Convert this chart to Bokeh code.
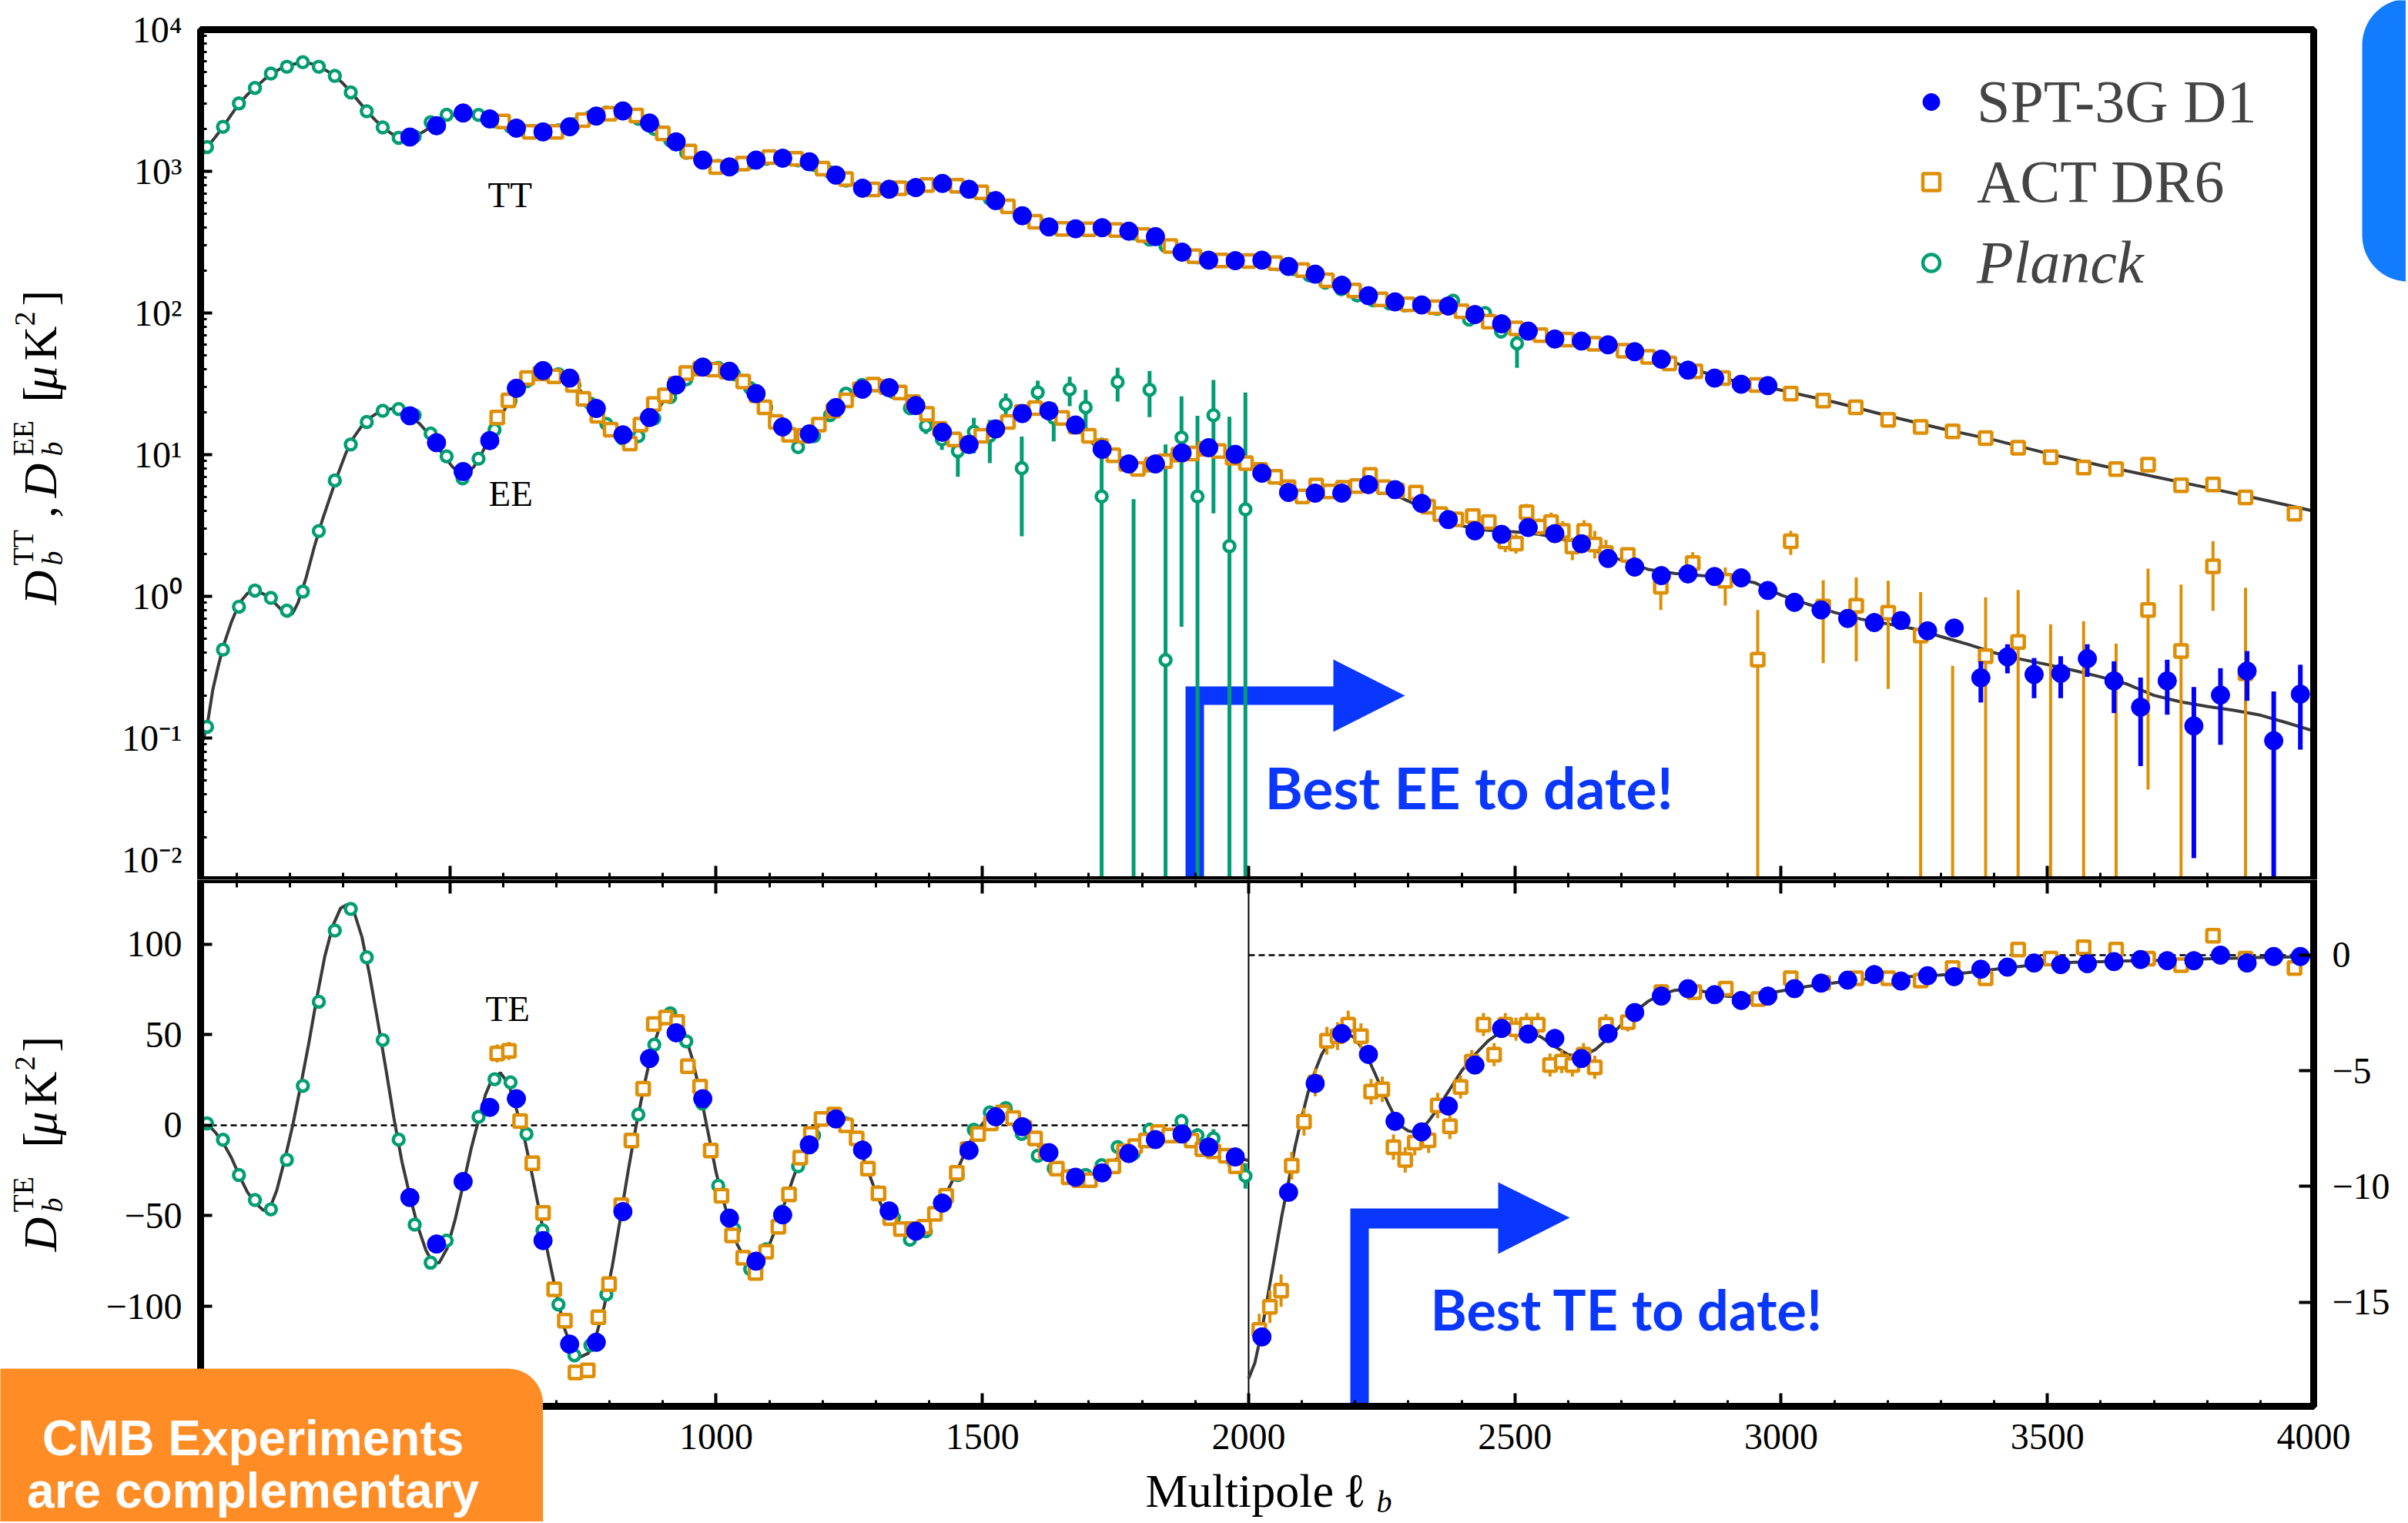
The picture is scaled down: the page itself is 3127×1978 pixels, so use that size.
import math
from bokeh.plotting import figure
from bokeh.models import Range1d, LinearAxis, FixedTicker, Label, Legend, LegendItem
from bokeh.layouts import column
from bokeh.embed import file_html
from bokeh.resources import INLINE

# ----------------------------------------------------------------- data
PLANCK_ELL = [44, 74, 104, 134, 164, 194, 224, 254, 284, 314, 344, 374, 404, 434, 464, 494, 524, 554,
              584, 614, 644, 674, 704, 734, 764, 794, 824, 854, 884, 914, 944, 974, 1004, 1034, 1064,
              1094, 1124, 1154, 1184, 1214, 1244, 1274, 1304, 1334, 1364, 1394, 1424, 1454, 1484, 1514,
              1544, 1574, 1604, 1634, 1664, 1694, 1724, 1754, 1784, 1814, 1844, 1874, 1904, 1934, 1964,
              1994, 2024, 2054, 2084, 2114, 2144, 2174, 2204, 2234, 2264, 2294, 2324, 2354, 2384, 2414,
              2444, 2474, 2504]
PLANCK_TT = [1484, 2061, 3014, 3875, 4898, 5475, 5888, 5475, 4713, 3606,
             2652, 2039, 1726, 1760, 2218, 2506, 2580, 2500, 2250, 2060,
             1900, 1880, 1950, 2150, 2420, 2600, 2600, 2350, 1990, 1650,
             1350, 1170, 1090, 1080, 1150, 1225, 1232, 1195, 1110, 985,
             860, 775, 748, 748, 765, 795, 808, 780, 720, 640,
             560, 490, 437, 404, 391, 390, 394, 384, 364, 330,
             296, 266, 247, 237, 234, 235, 232, 221, 204, 184,
             164, 147, 133, 123, 117, 113, 112, 107, 122, 90,
             100, 74, 61]
PLANCK_TT_ERR = [(2384, 112, 133), (2414, 82, 98), (2444, 91, 110), (2474, 66, 83), (2504, 41, 80)]
PLANCK_EE = [0.12, 0.42, 0.845, 1.10, 0.975, 0.794, 1.08, 2.89, 6.58, 11.8,
             17.0, 20.4, 21.0, 19.0, 14.1, 9.73, 6.8, 9.36, 15.0, 24.0,
             33.0, 38.5, 37.0, 31.0, 23.0, 16.5, 13.0, 13.5, 18.0, 25.5,
             34.0, 40.0, 41.0, 37.0, 29.5, 21.5, 15.5, 11.3, 13.5, 19.0,
             27.0, 31.0, 31.0, 27.5, 21.3, 16.0, 12.8, 10.6, 14.5, 13.6,
             22.7, 8.03, 27.5, 18.2, 28.9, 21.6, 5.07, 32.6, 1e-4, 28.7,
             0.355, 13.2, 5.07, 19.0, 2.26, 4.11]
PLANCK_EE_ERR = [(1364, 19.0, 24.0), (1394, 14.0, 18.5), (1424, 10.8, 14.8), (1454, 6.98, 14.5),
                 (1484, 10.2, 18.2), (1514, 8.72, 17.6), (1544, 17.0, 27.0), (1574, 2.65, 13.4),
                 (1604, 20.6, 33.3), (1634, 12.4, 23.4), (1664, 22.0, 35.5), (1694, 13.2, 28.7),
                 (1724, 1e-4, 13.2), (1754, 23.7, 41.1), (1784, 1e-4, 4.85), (1814, 18.4, 39.0),
                 (1844, 1e-4, 11.8), (1874, 0.61, 25.8), (1904, 1e-4, 18.8), (1934, 3.85, 33.7),
                 (1964, 1e-4, 18.5), (1994, 1e-4, 27.5)]
PLANCK_TE = [1.1, -8.0, -27.5, -41.3, -46.5, -19.1, 21.8, 68.3, 107.6, 119.5,
             92.8, 47.1, -7.9, -54.9, -75.9, -63.7, -30.0, 4.7, 25.4, 23.7,
             -4.8, -58.0, -99.0, -127.1, -121.6, -93.5, -45.0, 5.9, 44.5, 61.9,
             46.4, 12.0, -33.4, -57.3, -79.4, -68.5, -47.7, -22.7, -5.6, 4.0,
             1.1, -13.0, -37.0, -51.0, -63.2, -58.5, -44.2, -27.5, -2.5, 7.1,
             9.5, -4.8, -16.8, -23.9, -28.0, -27.5, -22.0, -12.0, -15.6, -2.5,
             -6.0, 2.3, -5.6, -7.2, -17.9, -28.0]
PLANCK_TE_ERR = [0, 0, 0, 0, 0, 0, 0, 0, 0, 0,
                 0, 0, 0, 0, 0, 0, 0, 0, 0, 0,
                 0, 0, 0, 0, 0, 0, 0, 0, 0, 0,
                 0, 0, 0, 0, 0, 0, 0, 0, 0, 0,
                 2, 2, 2, 2, 2, 2, 2, 2, 2, 2,
                 3, 3, 3, 3, 3, 3, 3, 3, 4, 4,
                 4, 4, 4, 5, 5, 7]

SPT_ELL = [425, 475, 525, 575, 625, 675, 725, 775, 825, 875, 925, 975, 1025, 1075, 1125, 1175,
           1225, 1275, 1325, 1375, 1425, 1475, 1525, 1575, 1625, 1675, 1725, 1775, 1825, 1875,
           1925, 1975, 2025, 2075, 2125, 2175, 2225, 2275, 2325, 2375, 2425, 2475, 2525, 2575,
           2625, 2675, 2725, 2775, 2825, 2875, 2925, 2975, 3025, 3075, 3125, 3175, 3225, 3275,
           3325, 3375, 3425, 3475, 3525, 3575, 3625, 3675, 3725, 3775, 3825, 3875, 3925, 3975]
SPT_TT = [1745, 2098, 2579, 2344, 2017, 1897, 2063, 2453, 2667, 2193,
          1614, 1200, 1074, 1200, 1238, 1168, 940, 760, 747, 768,
          821, 747, 621, 486, 405, 393, 400, 378, 346, 269,
          236, 234, 236, 213, 188, 157, 132.5, 119.8, 113.9, 112,
          97.4, 83.8, 74.5, 65.5, 63.4, 59.6, 53.3, 47.2, 39.5, 34.7,
          31.4, 30.7]
SPT_EE = [18.8, 12.15, 7.6, 12.57, 29.4, 39.2, 34.7, 21.2, 13.8, 18.3,
          31.0, 41.5, 38.8, 27.0, 15.7, 14.0, 21.5, 29.0, 29.7, 22.2,
          14.4, 11.8, 15.2, 19.5, 20.4, 16.2, 10.9, 8.6, 8.6, 10.3,
          11.2, 10.05, 7.4, 5.41, 5.35, 5.35, 6.15, 5.66, 4.53, 3.48,
          2.90, 2.74, 3.06, 2.77, 2.35, 1.85, 1.61, 1.40, 1.44, 1.38,
          1.35, 1.10, 0.907, 0.802, 0.698, 0.653, 0.675, 0.571, 0.597, 0.266,
          0.374, 0.281, 0.286, 0.363, 0.253, 0.165, 0.253, 0.1217, 0.201, 0.297,
          0.0957, 0.204]
SPT_EE_ERR = [(3375, 0.178, 0.348), (3425, 0.286, 0.459), (3475, 0.191, 0.367), (3525, 0.191, 0.378),
              (3575, 0.270, 0.459), (3625, 0.150, 0.348), (3675, 0.0634, 0.267), (3725, 0.146, 0.357),
              (3775, 0.0142, 0.229), (3825, 0.0895, 0.311), (3875, 0.183, 0.411), (3925, 0.001, 0.213),
              (3975, 0.0828, 0.329)]
SPT_TE_LEFT = [-39.9, -65.6, -31.1, 9.9, 14.7, -63.7, -120.9, -119.9, -47.7, 36.9,
               51.1, 14.7, -51.3, -75.1, -49.5, -10.8, 3.5, -13.7, -47.3, -58.5,
               -43.0, -13.9, 4.7, -0.8, -15.1, -28.7, -26.3, -15.6, -7.9, -4.8,
               -12.0, -17.5]
SPT_TE_RIGHT = [-16.5, -10.25, -5.55, -3.39, -4.29, -7.18, -7.64, -6.52, -4.75, -3.17,
                -3.41, -3.6, -4.47, -3.39, -2.48, -1.77, -1.45, -1.71, -1.96, -1.77,
                -1.45, -1.21, -1.08, -0.84, -1.12, -0.89, -0.93, -0.61, -0.52, -0.34,
                -0.41, -0.37, -0.28, -0.19, -0.24, -0.24, 0.0, -0.34, -0.06, -0.06]

ACT_TT = [(600, 2250), (650, 1900), (700, 1900), (750, 2300), (800, 2550), (850, 2480), (900, 1850),
          (950, 1380), (1000, 1070), (1050, 1135), (1100, 1260), (1150, 1225), (1200, 1044), (1244, 883),
          (1295, 745), (1345, 760), (1396, 800), (1452, 790), (1498, 710), (1548, 565), (1599, 440),
          (1650, 392), (1700, 390), (1751, 385), (1802, 355), (1853, 297), (1898, 252), (1949, 235),
          (2000, 233), (2050, 225), (2101, 201), (2147, 170), (2198, 144), (2248, 125), (2299, 115),
          (2350, 110), (2400, 103), (2451, 87), (2502, 77.9), (2548, 69.7), (2598, 65), (2649, 60.6),
          (2704, 54.2), (2750, 49), (2790, 44), (2839, 38.8), (2891, 34.7), (2953, 31.0), (3018, 27.0),
          (3079, 24.1), (3140, 21.6), (3201, 17.6), (3262, 15.7), (3322, 14.6), (3384, 13.1), (3445, 11.2),
          (3506, 9.6), (3568, 8.1), (3629, 7.9), (3689, 8.5), (3751, 6.08), (3811, 6.15), (3872, 5.0),
          (3964, 3.83)]
ACT_EE = [(589, 18.3), (610, 24.2), (645, 34.7), (670, 37.5), (696, 35.7), (731, 31.0), (751, 24.8),
          (777, 18.8), (802, 15.0), (838, 12.0), (858, 16.3), (883, 22.8), (904, 26.2), (924, 31.5),
          (944, 37.7), (970, 40.5), (995, 39.8), (1020, 38.5), (1051, 32.8), (1076, 26.2), (1091, 21.6),
          (1112, 17.0), (1137, 13.8), (1165, 13.6), (1193, 16.3), (1220, 20.5), (1244, 24.2), (1270, 29.0),
          (1295, 31.2), (1320, 30.0), (1345, 27.5), (1370, 23.5), (1396, 19.4), (1420, 15.2), (1447, 12.8),
          (1472, 12.0), (1498, 13.6), (1523, 15.0), (1548, 17.0), (1574, 20.0), (1599, 21.3), (1625, 20.5),
          (1650, 18.2), (1675, 15.8), (1700, 13.6), (1723, 11.5), (1746, 9.9), (1770, 8.6), (1792, 7.93),
          (1818, 8.5), (1843, 9.0), (1868, 10.0), (1893, 10.2), (1918, 11.0), (1944, 10.6), (1970, 9.5),
          (1995, 8.72), (2022, 7.8), (2050, 6.98), (2075, 5.9), (2101, 5.07), (2127, 6.06), (2152, 5.5),
          (2177, 5.83), (2203, 6.0), (2228, 7.2), (2254, 5.9), (2279, 5.58), (2314, 5.40), (2337, 4.3),
          (2360, 3.80), (2390, 3.5), (2421, 3.69), (2451, 3.35), (2482, 2.44), (2502, 2.36), (2522, 3.93),
          (2545, 3.1), (2568, 3.35), (2590, 2.90), (2608, 2.25), (2630, 2.9), (2650, 2.32), (2671, 2.02),
          (2712, 1.96), (2774, 1.17), (2834, 1.72), (2895, 1.29), (2956, 0.357), (3018, 2.45), (3079, 0.848),
          (3141, 0.858), (3201, 0.767), (3262, 0.528), (3322, 1e-4), (3384, 0.378), (3445, 0.477),
          (3506, 1e-4), (3568, 1e-4), (3629, 1e-4), (3689, 0.802), (3751, 0.411), (3811, 1.63), (3872, 0.286)]
ACT_EE_ERR = [(2314, 4.9, 5.95), (2337, 3.8, 4.8), (2360, 3.4, 4.25), (2390, 3.1, 3.95), (2421, 3.25, 4.15),
              (2451, 3.0, 3.75), (2482, 2.05, 2.9), (2502, 2.0, 2.75), (2522, 3.4, 4.5), (2545, 2.7, 3.55),
              (2568, 2.9, 3.9), (2590, 2.45, 3.4), (2608, 1.8, 2.6), (2630, 2.4, 3.45), (2650, 1.85, 2.9),
              (2671, 1.7, 2.5), (2712, 1.75, 2.2), (2774, 0.80, 1.6), (2834, 1.45, 2.05), (2895, 0.86, 1.6),
              (2956, 1e-4, 0.80), (3018, 1.96, 2.90), (3079, 0.338, 1.30), (3141, 0.347, 1.36),
              (3201, 0.222, 1.29), (3262, 1e-4, 1.07), (3322, 1e-4, 0.323), (3384, 1e-4, 0.986),
              (3445, 1e-4, 1.11), (3506, 1e-4, 0.635), (3568, 1e-4, 0.667), (3629, 1e-4, 0.464),
              (3689, 0.0433, 1.57), (3751, 1e-4, 1.21), (3811, 0.789, 2.45), (3872, 1e-4, 1.15)]
ACT_TE_LEFT = [(589, 39.7, 5), (611, 41.1, 5), (632, 2.3, 4), (655, -21.0, 4), (675, -48.4, 4), (696, -90.6, 4),
               (716, -108.0, 4), (736, -136.6, 4), (759, -135.4, 4), (779, -106.1, 3), (799, -87.8, 3),
               (822, -44.2, 3), (841, -8.4, 3), (863, 20.2, 3), (883, 55.9, 3), (906, 59.5, 3), (927, 57.1, 3),
               (947, 32.6, 3), (970, 21.4, 3), (990, -13.9, 3), (1010, -38.9, 2.5), (1030, -60.8, 2.5),
               (1051, -73.2, 2.5), (1074, -81.6, 2.5), (1094, -69.9, 2.5), (1117, -56.1, 2.5), (1137, -38.2, 2.5),
               (1158, -17.9, 2.5), (1178, -4.8, 2.5), (1198, 3.5, 2.5), (1222, 5.9, 2.5), (1244, 0.0, 2.5),
               (1264, -7.2, 2.5), (1285, -23.9, 2.5), (1305, -37.7, 2.5), (1327, -51.3, 2.5), (1347, -57.3, 2.5),
               (1368, -57.3, 2.5), (1391, -56.1, 2.5), (1411, -48.9, 2.5), (1432, -38.9, 2.5), (1452, -26.3, 2.5),
               (1472, -13.2, 2.5), (1492, -4.8, 2.5), (1516, 1.1, 2.5), (1538, 7.1, 2.5), (1558, 4.0, 2.5),
               (1579, -1.3, 2.5), (1599, -7.2, 2.5), (1619, -14.4, 2.5), (1640, -23.9, 2.5), (1662, -28.7, 2.5),
               (1682, -30.3, 2.5), (1702, -30.3, 2.5), (1723, -26.3, 2.5), (1746, -22.7, 2.5), (1766, -14.4, 2.5),
               (1787, -11.5, 2.5), (1807, -8.4, 2.5), (1830, -3.7, 2.5), (1851, -5.6, 2.5), (1873, -5.6, 2.5),
               (1893, -8.4, 2.5), (1913, -13.2, 2.5), (1934, -14.4, 2.5), (1957, -16.8, 2.5), (1976, -22.7, 2.5)]
ACT_TE_RIGHT = [(2020, -16.2, 0.7), (2040, -15.2, 0.7), (2061, -14.5, 0.7), (2081, -9.1, 0.6), (2104, -7.2, 0.6),
                (2125, -5.5, 0.6), (2147, -3.7, 0.6), (2167, -3.5, 0.6), (2187, -3.0, 0.6), (2211, -3.5, 0.55),
                (2230, -5.9, 0.55), (2251, -5.8, 0.55), (2272, -8.3, 0.55), (2294, -8.85, 0.55), (2312, -8.1, 0.55),
                (2338, -8.0, 0.55), (2355, -6.5, 0.55), (2378, -7.4, 0.55), (2398, -5.7, 0.5), (2419, -4.6, 0.5),
                (2441, -3.0, 0.5), (2461, -4.3, 0.5), (2482, -3.0, 0.5), (2502, -3.2, 0.5), (2522, -3.0, 0.5),
                (2543, -3.0, 0.5), (2566, -4.75, 0.5), (2588, -4.6, 0.5), (2608, -4.75, 0.5), (2629, -4.3, 0.5),
                (2650, -4.85, 0.5), (2671, -3.0, 0.45), (2712, -2.9, 0.4), (2775, -1.6, 0.35), (2837, -1.6, 0.3),
                (2896, -1.45, 0.3), (2957, -1.9, 0.3), (3018, -1.0, 0.3), (3079, -1.2, 0.3), (3141, -1.0, 0.3),
                (3201, -1.0, 0.3), (3262, -1.1, 0.3), (3322, -0.56, 0.3), (3384, -1.0, 0.3), (3445, 0.24, 0.3),
                (3506, -0.15, 0.3), (3568, 0.34, 0.3), (3629, 0.24, 0.3), (3689, -0.15, 0.3), (3751, -0.43, 0.3),
                (3811, 0.84, 0.3), (3872, -0.15, 0.3), (3964, -0.56, 0.3)]

TT_THEORY = [(32, 1250), (44, 1480), (60, 1750), (75, 2080), (90, 2520), (105, 3030), (120, 3480), (135, 3900),
             (150, 4400), (165, 4900), (180, 5250), (195, 5520), (210, 5750), (225, 5850), (240, 5750), (255, 5450),
             (270, 5100), (285, 4680), (300, 4150), (315, 3600), (330, 3080), (345, 2640), (360, 2300), (375, 2040),
             (390, 1850), (405, 1740), (420, 1720), (435, 1770), (450, 1900), (475, 2180), (500, 2460), (525, 2580),
             (550, 2500), (575, 2340), (600, 2160), (625, 2010), (650, 1900), (675, 1880), (700, 1960), (725, 2120),
             (750, 2330), (775, 2500), (800, 2620), (825, 2620), (850, 2450), (875, 2170), (900, 1860), (925, 1590),
             (950, 1360), (975, 1200), (1000, 1100), (1025, 1075), (1050, 1110), (1075, 1180), (1100, 1225),
             (1125, 1235), (1150, 1200), (1175, 1145), (1200, 1050), (1225, 935), (1250, 840), (1275, 775),
             (1300, 750), (1325, 745), (1350, 755), (1375, 775), (1400, 800), (1425, 810), (1450, 790), (1475, 740),
             (1500, 680), (1525, 610), (1550, 545), (1575, 488), (1600, 440), (1625, 408), (1650, 393), (1675, 390),
             (1700, 393), (1725, 394), (1750, 386), (1775, 370), (1800, 346), (1825, 318), (1850, 290), (1875, 266),
             (1900, 249), (1925, 239), (1950, 235), (1975, 235), (2000, 235), (2025, 232), (2050, 224), (2075, 211),
             (2100, 195), (2125, 177), (2150, 161), (2175, 147), (2200, 135), (2225, 126), (2250, 119.5),
             (2275, 115.5), (2300, 113), (2325, 111.5), (2350, 109), (2375, 104.5), (2400, 98.5), (2450, 87),
             (2500, 77), (2550, 69.5), (2600, 64.5), (2650, 60.5), (2700, 56), (2750, 50.5), (2800, 44.5),
             (2850, 38.5), (2900, 34), (2950, 31), (3000, 28.5), (3100, 23.5), (3200, 18.8), (3300, 15.3),
             (3400, 12.7), (3500, 10.2), (3600, 8.4), (3700, 7.0), (3800, 5.85), (3900, 4.85), (4000, 4.0)]
EE_THEORY = [(32, 0.085), (44, 0.12), (55, 0.22), (65, 0.32), (75, 0.45), (90, 0.66), (105, 0.9), (120, 1.05),
             (135, 1.10), (150, 1.04), (165, 0.95), (180, 0.83), (195, 0.72), (205, 0.76), (215, 0.9), (230, 1.35),
             (245, 2.2), (260, 3.4), (275, 5.0), (290, 7.3), (305, 10.3), (320, 13.3), (335, 16.0), (350, 18.2),
             (365, 19.8), (380, 20.8), (395, 21.2), (410, 20.6), (425, 19.0), (445, 16.3), (465, 13.3), (485, 10.3),
             (505, 8.2), (520, 7.3), (530, 7.2), (545, 8.2), (560, 10.2), (580, 14.5), (600, 20.0), (625, 28.5),
             (650, 35.0), (675, 38.5), (700, 38.0), (725, 34.0), (750, 27.0), (775, 20.5), (800, 15.5), (820, 13.0),
             (840, 12.6), (860, 14.3), (880, 18.0), (900, 23.5), (925, 31.0), (950, 37.5), (975, 41.0), (1000, 41.5),
             (1025, 38.5), (1050, 33.0), (1075, 26.0), (1100, 19.5), (1125, 15.2), (1150, 13.0), (1170, 13.0),
             (1190, 15.0), (1210, 18.5), (1230, 22.5), (1250, 26.3), (1275, 29.5), (1300, 30.8), (1325, 29.8),
             (1350, 26.5), (1375, 22.0), (1400, 17.5), (1425, 14.2), (1450, 12.3), (1475, 11.8), (1500, 12.8),
             (1525, 15.0), (1550, 17.8), (1575, 19.8), (1600, 20.6), (1625, 20.2), (1650, 18.3), (1675, 15.5),
             (1700, 12.7), (1725, 10.5), (1750, 9.2), (1775, 8.6), (1800, 8.7), (1825, 9.2), (1850, 9.9),
             (1875, 10.5), (1900, 10.9), (1925, 10.9), (1950, 10.4), (1975, 9.6), (2000, 8.6), (2025, 7.5),
             (2050, 6.5), (2075, 5.8), (2100, 5.4), (2125, 5.3), (2150, 5.4), (2175, 5.6), (2200, 5.8), (2225, 5.8),
             (2250, 5.6), (2275, 5.2), (2300, 4.7), (2325, 4.2), (2350, 3.8), (2375, 3.4), (2400, 3.15), (2425, 3.0),
             (2450, 2.92), (2475, 2.88), (2500, 2.85), (2525, 2.8), (2550, 2.72), (2575, 2.6), (2600, 2.45),
             (2650, 2.1), (2700, 1.8), (2750, 1.55), (2800, 1.45), (2850, 1.40), (2900, 1.36), (2950, 1.25),
             (3000, 1.02), (3050, 0.88), (3100, 0.77), (3150, 0.69), (3200, 0.64), (3250, 0.59), (3300, 0.52),
             (3350, 0.46), (3400, 0.40), (3450, 0.36), (3500, 0.33), (3550, 0.30), (3600, 0.27), (3650, 0.24),
             (3700, 0.20), (3750, 0.18), (3800, 0.167), (3850, 0.157), (3900, 0.145), (3950, 0.128), (4000, 0.112)]
TE_THEORY_LEFT = [(32, 4), (44, 1), (60, -4), (75, -10), (90, -18), (105, -28), (120, -37), (135, -43), (150, -47),
                  (162, -46), (175, -36), (190, -19), (205, 0), (220, 22), (235, 45), (250, 70), (265, 93), (280, 110),
                  (295, 120), (307, 122), (320, 118), (335, 104), (350, 82), (365, 57), (380, 31), (395, 4),
                  (410, -20), (425, -39), (440, -56), (455, -69), (468, -76), (480, -76), (495, -68), (510, -52),
                  (525, -33), (540, -13), (555, 4), (567, 17), (580, 26), (595, 29), (610, 23), (625, 9), (640, -7),
                  (655, -28), (670, -50), (685, -72), (700, -93), (715, -112), (730, -124), (745, -128), (760, -126),
                  (775, -116), (790, -100), (805, -78), (820, -52), (835, -25), (850, 0), (865, 22), (880, 42),
                  (895, 55), (910, 61), (925, 60), (940, 52), (955, 37), (970, 18), (985, -4), (1000, -26),
                  (1012, -40), (1025, -53), (1040, -66), (1055, -74), (1070, -77), (1085, -75), (1100, -66),
                  (1115, -55), (1130, -42), (1145, -29), (1160, -17), (1175, -8), (1190, -1), (1205, 3), (1220, 4.5),
                  (1235, 3), (1250, -2), (1265, -10), (1280, -21), (1295, -33), (1310, -44), (1325, -52), (1340, -57),
                  (1355, -59.5), (1370, -60), (1385, -58), (1400, -53), (1415, -47), (1430, -39), (1445, -30),
                  (1460, -20), (1475, -10), (1490, -3), (1505, 2.5), (1520, 5.5), (1535, 6.5), (1550, 4.5),
                  (1565, 1), (1580, -3), (1595, -8), (1610, -13), (1625, -18), (1640, -23), (1660, -27.5),
                  (1680, -29), (1700, -28.5), (1720, -25), (1740, -21), (1760, -17), (1780, -13), (1800, -9),
                  (1820, -6), (1840, -4.5), (1860, -4), (1880, -5), (1900, -7.5), (1920, -10.5), (1940, -13.5),
                  (1960, -16), (1980, -18), (2000, -19.5)]
TE_THEORY_RIGHT = [(2000, -18.3), (2012, -17.6), (2025, -16.2), (2037, -14.6), (2050, -12.9), (2062, -11.3),
                   (2075, -9.8), (2087, -8.3), (2100, -7.0), (2112, -5.9), (2125, -5.0), (2137, -4.3), (2150, -3.8),
                   (2162, -3.5), (2175, -3.35), (2187, -3.4), (2200, -3.6), (2212, -4.0), (2225, -4.5), (2237, -5.1),
                   (2250, -5.8), (2262, -6.4), (2275, -7.0), (2287, -7.4), (2300, -7.6), (2312, -7.65), (2325, -7.5),
                   (2337, -7.2), (2350, -6.8), (2375, -5.9), (2400, -5.0), (2425, -4.3), (2450, -3.7), (2475, -3.3),
                   (2500, -3.15), (2525, -3.25), (2550, -3.55), (2575, -3.95), (2600, -4.3), (2625, -4.35),
                   (2650, -4.1), (2675, -3.6), (2700, -3.0), (2725, -2.45), (2750, -2.0), (2775, -1.7), (2800, -1.52),
                   (2825, -1.47), (2850, -1.55), (2875, -1.68), (2900, -1.78), (2925, -1.8), (2950, -1.75),
                   (3000, -1.55), (3050, -1.35), (3100, -1.2), (3150, -1.05), (3200, -0.97), (3250, -0.92),
                   (3300, -0.86), (3350, -0.76), (3400, -0.62), (3450, -0.48), (3500, -0.37), (3550, -0.31),
                   (3600, -0.28), (3650, -0.25), (3700, -0.23), (3750, -0.2), (3800, -0.16), (3850, -0.13),
                   (3900, -0.1), (3950, -0.08), (4000, -0.07)]

X_MAJOR = [500, 1000, 1500, 2000, 2500, 3000, 3500, 4000]
X_MINOR = [100, 200, 300, 400, 600, 700, 800, 900, 1100, 1200, 1300, 1400, 1600, 1700, 1800, 1900,
           2100, 2200, 2300, 2400, 2600, 2700, 2800, 2900, 3100, 3200, 3300, 3400, 3600, 3700, 3800, 3900]
LOG_MAJOR = [1e-2, 1e-1, 1e0, 1e1, 1e2, 1e3, 1e4]
LOG_LABELS = ["10⁻²", "10⁻¹", "10⁰", "10¹", "10²", "10³", "10⁴"]
TE_LEFT_TICKS = [-100, -50, 0, 50, 100]
TE_LEFT_LABELS = ["−100", "−50", "0", "50", "100"]
TE_RIGHT_TICKS = [-15, -10, -5, 0]
TE_RIGHT_LABELS = ["−15", "−10", "−5", "0"]

# ----------------------------------------------------------------- geometry / style
SERIF = "Liberation Serif"
BLUE = "#0000FF"
ORANGE = "#DE8F05"
GREEN = "#029E73"
THEORY = "#3a3a3a"
ARROW = "#0A37FF"
W = 3124
BOX_L, BOX_R = 260, 3004            # page px of plot box left / right
BOX_T, MID, BOX_B = 38, 1142, 1826  # page px of top, shared edge, bottom
H_TOP, H_BOT = MID, 834
XL, XR = 32, 4000
TE_BOT, TE_TOP = -155.3, 135.7
R_BOT, R_TOP = -19.5, 3.26
PPE = (BOX_R - BOX_L) / (XR - XL)
DEC = (MID - BOX_T) / 6.0
TE_PPU = (BOX_B - MID) / (TE_TOP - TE_BOT)
R_PPU = (BOX_B - MID) / (R_TOP - R_BOT)
BASE_SHIFT = 0.38


def unzip(rows, i):
    return [r[i] for r in rows]


def px_ell(X):
    return XL + (X - BOX_L) / PPE


def px_logD(Y):
    return 10 ** (4 - (Y - BOX_T) / DEC)


def px_teR(Y):
    return R_TOP - (Y - MID) / R_PPU


def style_axis(ax, size="48px"):
    ax.axis_line_color = None
    ax.major_label_text_font = SERIF
    ax.major_label_text_font_size = size
    ax.major_label_text_color = "black"
    ax.major_tick_line_color = "black"
    ax.minor_tick_line_color = "black"
    ax.major_tick_line_width = 4
    ax.minor_tick_line_width = 3
    ax.major_tick_out = 0
    ax.minor_tick_out = 0
    ax.axis_label = None


def hide_labels(ax, ticks):
    ax.major_label_overrides = {t: "" for t in ticks}
    ax.major_label_text_font_size = "0px"
    ax.major_label_standoff = 0


def hlabel(fig, H, Y0, text, X, Yb, size, font=SERIF, style="normal", color="black", align="left"):
    fig.add_layout(Label(x=X, y=H - (Yb - Y0) + BASE_SHIFT * size, x_units="screen", y_units="screen",
                         text=text, text_font=font, text_font_style=style, text_font_size=f"{size}px",
                         text_color=color, text_align=align, text_baseline="alphabetic"))


def vlabel(fig, H, Y0, text, Xb, Ys, size, style="normal"):
    fig.add_layout(Label(x=Xb - BASE_SHIFT * size, y=H - (Ys - Y0), x_units="screen", y_units="screen",
                         text=text, angle=math.pi / 2, text_font=SERIF, text_font_style=style,
                         text_font_size=f"{size}px", text_color="black", text_align="left",
                         text_baseline="alphabetic"))


def box_label(fig, H, Y0, X, Y, color, radius, pad):
    # the padded background box has its top-left corner at page (X, Y)
    fig.add_layout(Label(x=X, y=H - (Y - Y0), x_units="screen", y_units="screen", text=" ",
                         text_font_size="2px", text_align="left", text_baseline="top",
                         background_fill_color=color, border_line_color=None, border_radius=radius,
                         padding=pad))


x_range = Range1d(XL - BOX_L / PPE, XL + (W - BOX_L) / PPE)

# ----------------------------------------------------------------- top panel (TT, EE)
top = figure(width=W, height=H_TOP, x_range=x_range,
             y_range=Range1d(1e-2, 10 ** (4 + BOX_T / DEC)), y_axis_type="log",
             min_border=0, output_backend="svg", toolbar_location=None)
top.grid.visible = False
top.outline_line_color = None

xa = top.xaxis[0]
style_axis(xa)
xa.fixed_location = 1e-2
xa.ticker = FixedTicker(ticks=X_MAJOR, minor_ticks=X_MINOR)
xa.major_tick_in = 18
xa.minor_tick_in = 9
hide_labels(xa, X_MAJOR)

ya = top.yaxis[0]
style_axis(ya)
ya.fixed_location = XL
ya.ticker = FixedTicker(ticks=LOG_MAJOR,
                        minor_ticks=[m * d for d in LOG_MAJOR[:-1] for m in (2, 3, 4, 5, 6, 7, 8, 9)])
ya.major_label_overrides = dict(zip(LOG_MAJOR, LOG_LABELS))
ya.major_tick_in = 15
ya.minor_tick_in = 8
ya.major_label_standoff = 24

EE_ARROW_PX = [(1539, 1142), (1539, 891), (1731, 891), (1731, 856), (1824, 903), (1731, 950),
               (1731, 915), (1563, 915), (1563, 1142)]
top.patch([px_ell(p[0]) for p in EE_ARROW_PX], [px_logD(p[1]) for p in EE_ARROW_PX],
          fill_color=ARROW, line_color=None)

top.line(unzip(TT_THEORY, 0), unzip(TT_THEORY, 1), line_color=THEORY, line_width=4)
top.line(unzip(EE_THEORY, 0), unzip(EE_THEORY, 1), line_color=THEORY, line_width=4)

top.segment(unzip(PLANCK_TT_ERR, 0), unzip(PLANCK_TT_ERR, 1), unzip(PLANCK_TT_ERR, 0), unzip(PLANCK_TT_ERR, 2),
            line_color=GREEN, line_width=5)
top.segment(unzip(PLANCK_EE_ERR, 0), unzip(PLANCK_EE_ERR, 1), unzip(PLANCK_EE_ERR, 0), unzip(PLANCK_EE_ERR, 2),
            line_color=GREEN, line_width=5)
r_pl = top.scatter(PLANCK_ELL, PLANCK_TT, marker="circle", size=14, fill_color="white",
                   line_color=GREEN, line_width=4.5)
top.scatter(PLANCK_ELL[:len(PLANCK_EE)], PLANCK_EE, marker="circle", size=14, fill_color="white",
            line_color=GREEN, line_width=4.5)

top.segment(unzip(ACT_EE_ERR, 0), unzip(ACT_EE_ERR, 1), unzip(ACT_EE_ERR, 0), unzip(ACT_EE_ERR, 2),
            line_color=ORANGE, line_width=4)
r_act = top.scatter(unzip(ACT_TT, 0), unzip(ACT_TT, 1), marker="square", size=16, fill_color="white",
                    line_color=ORANGE, line_width=4.5)
top.scatter(unzip(ACT_EE, 0), unzip(ACT_EE, 1), marker="square", size=16, fill_color="white",
            line_color=ORANGE, line_width=4.5)

top.segment(unzip(SPT_EE_ERR, 0), unzip(SPT_EE_ERR, 1), unzip(SPT_EE_ERR, 0), unzip(SPT_EE_ERR, 2),
            line_color=BLUE, line_width=6)
r_spt = top.scatter(SPT_ELL[:len(SPT_TT)], SPT_TT, marker="circle", size=24, fill_color=BLUE, line_color=BLUE,
                    line_width=1)
top.scatter(SPT_ELL, SPT_EE, marker="circle", size=24, fill_color=BLUE, line_color=BLUE, line_width=1)

# plot box outline
top.quad(left=[XL], right=[XR], bottom=[1e-2], top=[1e4], fill_color=None, line_color="black", line_width=9)

leg1 = Legend(items=[LegendItem(label="SPT-3G D1", renderers=[r_spt]),
                     LegendItem(label="ACT DR6", renderers=[r_act])],
              location=(2480, MID - 288))
leg2 = Legend(items=[LegendItem(label="Planck", renderers=[r_pl])], location=(2480, MID - 393))
for lg in (leg1, leg2):
    lg.border_line_color = None
    lg.background_fill_alpha = 0
    lg.padding = 0
    lg.margin = 0
    lg.spacing = 0
    lg.glyph_width = 55
    lg.glyph_height = 104
    lg.label_height = 104
    lg.label_standoff = 32
    lg.label_text_font = SERIF
    lg.label_text_font_size = "78px"
    lg.label_text_baseline = "middle"
leg2.label_text_font_style = "italic"
top.add_layout(leg1)
top.add_layout(leg2)

hlabel(top, H_TOP, 0, "TT", 633, 270, 47)
hlabel(top, H_TOP, 0, "EE", 634, 658, 47)
hlabel(top, H_TOP, 0, "Best EE to date!", 1642, 1050, 75, font="Lato", style="bold", color=ARROW)

# blue tab at the top right (decoration)
box_label(top, H_TOP, 0, 3067, -2, "#127CFF", 60, dict(left=0, right=120, top=0, bottom=365))

for t, X, Y, s, st in [("D", 75, 785, 62, "italic"), ("b", 82, 734, 38, "italic"), ("TT", 44, 734, 38, "normal"),
                       (",", 75, 672, 62, "normal"), ("D", 75, 646, 62, "italic"), ("b", 82, 592, 38, "italic"),
                       ("EE", 44, 592, 38, "normal"), ("[", 75, 522, 62, "normal"), ("μ", 75, 506, 62, "italic"),
                       ("K", 75, 468, 62, "normal"), ("2", 46, 423, 38, "normal"), ("]", 75, 397, 62, "normal")]:
    vlabel(top, H_TOP, 0, t, X, Y, s, st)

# ----------------------------------------------------------------- bottom panel (TE)
bot = figure(width=W, height=H_BOT, x_range=x_range,
             y_range=Range1d(TE_BOT - (MID + H_BOT - BOX_B) / TE_PPU, TE_TOP),
             min_border=0, output_backend="svg", toolbar_location=None)
bot.extra_y_ranges = {"right": Range1d(R_BOT - (MID + H_BOT - BOX_B) / R_PPU, R_TOP)}
bot.grid.visible = False
bot.outline_line_color = None

bx = bot.xaxis[0]
style_axis(bx)
bx.fixed_location = TE_BOT
bx.ticker = FixedTicker(ticks=X_MAJOR, minor_ticks=X_MINOR)
bx.major_tick_in = 17
bx.minor_tick_in = 8
bx.major_label_standoff = 23

ax_top = LinearAxis(ticker=FixedTicker(ticks=X_MAJOR, minor_ticks=X_MINOR))
style_axis(ax_top)
ax_top.fixed_location = TE_TOP
ax_top.major_tick_in = 18
ax_top.minor_tick_in = 10
hide_labels(ax_top, X_MAJOR)
bot.add_layout(ax_top, "above")

by = bot.yaxis[0]
style_axis(by)
by.fixed_location = XL
by.ticker = FixedTicker(ticks=TE_LEFT_TICKS, minor_ticks=[])
by.major_label_overrides = dict(zip(TE_LEFT_TICKS, TE_LEFT_LABELS))
by.major_tick_in = 15
by.minor_tick_in = 0
by.major_label_standoff = 24

ax_r = LinearAxis(y_range_name="right", ticker=FixedTicker(ticks=TE_RIGHT_TICKS, minor_ticks=[]))
style_axis(ax_r)
ax_r.fixed_location = XR
ax_r.major_label_overrides = dict(zip(TE_RIGHT_TICKS, TE_RIGHT_LABELS))
ax_r.major_tick_in = 19
ax_r.minor_tick_in = 0
ax_r.major_label_standoff = 24
bot.add_layout(ax_r, "right")

TE_ARROW_PX = [(1753, 1826), (1753, 1569), (1945, 1569), (1945, 1535), (2038, 1581), (1945, 1628),
               (1945, 1595), (1777, 1595), (1777, 1826)]
bot.patch([px_ell(p[0]) for p in TE_ARROW_PX], [px_teR(p[1]) for p in TE_ARROW_PX],
          fill_color=ARROW, line_color=None, y_range_name="right")

bot.line([XL, 2000], [0, 0], line_color="black", line_width=2.5, line_dash="8 5")
bot.line([2000, XR], [0, 0], line_color="black", line_width=2.5, line_dash="8 5", y_range_name="right")
bot.segment([2000], [TE_BOT], [2000], [TE_TOP], line_color="black", line_width=2)

bot.line(unzip(TE_THEORY_LEFT, 0), unzip(TE_THEORY_LEFT, 1), line_color=THEORY, line_width=4)
bot.line(unzip(TE_THEORY_RIGHT, 0), unzip(TE_THEORY_RIGHT, 1), line_color=THEORY, line_width=4,
         y_range_name="right")

pl_te_ell = PLANCK_ELL[:len(PLANCK_TE)]
bot.segment(pl_te_ell, [v - e for v, e in zip(PLANCK_TE, PLANCK_TE_ERR)],
            pl_te_ell, [v + e for v, e in zip(PLANCK_TE, PLANCK_TE_ERR)], line_color=GREEN, line_width=5)
bot.scatter(pl_te_ell, PLANCK_TE, marker="circle", size=14, fill_color="white", line_color=GREEN,
            line_width=4.5)

bot.segment(unzip(ACT_TE_LEFT, 0), [a[1] - a[2] for a in ACT_TE_LEFT],
            unzip(ACT_TE_LEFT, 0), [a[1] + a[2] for a in ACT_TE_LEFT], line_color=ORANGE, line_width=4)
bot.scatter(unzip(ACT_TE_LEFT, 0), unzip(ACT_TE_LEFT, 1), marker="square", size=16, fill_color="white",
            line_color=ORANGE, line_width=4.5)
bot.segment(unzip(ACT_TE_RIGHT, 0), [a[1] - a[2] for a in ACT_TE_RIGHT],
            unzip(ACT_TE_RIGHT, 0), [a[1] + a[2] for a in ACT_TE_RIGHT], line_color=ORANGE, line_width=4,
            y_range_name="right")
bot.scatter(unzip(ACT_TE_RIGHT, 0), unzip(ACT_TE_RIGHT, 1), marker="square", size=16, fill_color="white",
            line_color=ORANGE, line_width=4.5, y_range_name="right")

bot.scatter(SPT_ELL[:len(SPT_TE_LEFT)], SPT_TE_LEFT, marker="circle", size=24, fill_color=BLUE,
            line_color=BLUE, line_width=1)
bot.scatter(SPT_ELL[len(SPT_TE_LEFT):], SPT_TE_RIGHT, marker="circle", size=24, fill_color=BLUE,
            line_color=BLUE, line_width=1, y_range_name="right")

bot.quad(left=[XL], right=[XR], bottom=[TE_BOT], top=[TE_TOP], fill_color=None, line_color="black",
         line_width=9)

hlabel(bot, H_BOT, MID, "TE", 630, 1327, 47)
hlabel(bot, H_BOT, MID, "Best TE to date!", 1857, 1727, 72, font="Lato", style="bold", color=ARROW)

for t, X, Y, s, st in [("D", 75, 1625, 62, "italic"), ("b", 82, 1574, 38, "italic"), ("TE", 44, 1574, 38, "normal"),
                       ("[", 75, 1490, 62, "normal"), ("μ", 75, 1474, 62, "italic"), ("K", 75, 1436, 62, "normal"),
                       ("2", 46, 1390, 38, "normal"), ("]", 75, 1366, 62, "normal")]:
    vlabel(bot, H_BOT, MID, t, X, Y, s, st)

hlabel(bot, H_BOT, MID, "Multipole", 1487, 1959, 62)
hlabel(bot, H_BOT, MID, "ℓ", 1744, 1959, 62)
hlabel(bot, H_BOT, MID, "b", 1787, 1965, 40, style="italic")

# orange call-out box at bottom-left
box_label(bot, H_BOT, MID, -60, 1777, "#FF8C24", 45, dict(left=0, right=764, top=0, bottom=300))
hlabel(bot, H_BOT, MID, "CMB Experiments", 328, 1892, 64, font="Liberation Sans", style="bold",
       color="white", align="center")
hlabel(bot, H_BOT, MID, "are complementary", 328, 1960, 64, font="Liberation Sans", style="bold",
       color="white", align="center")

layout = column(top, bot, spacing=0)
open("out.html", "w").write(file_html(layout, INLINE))
